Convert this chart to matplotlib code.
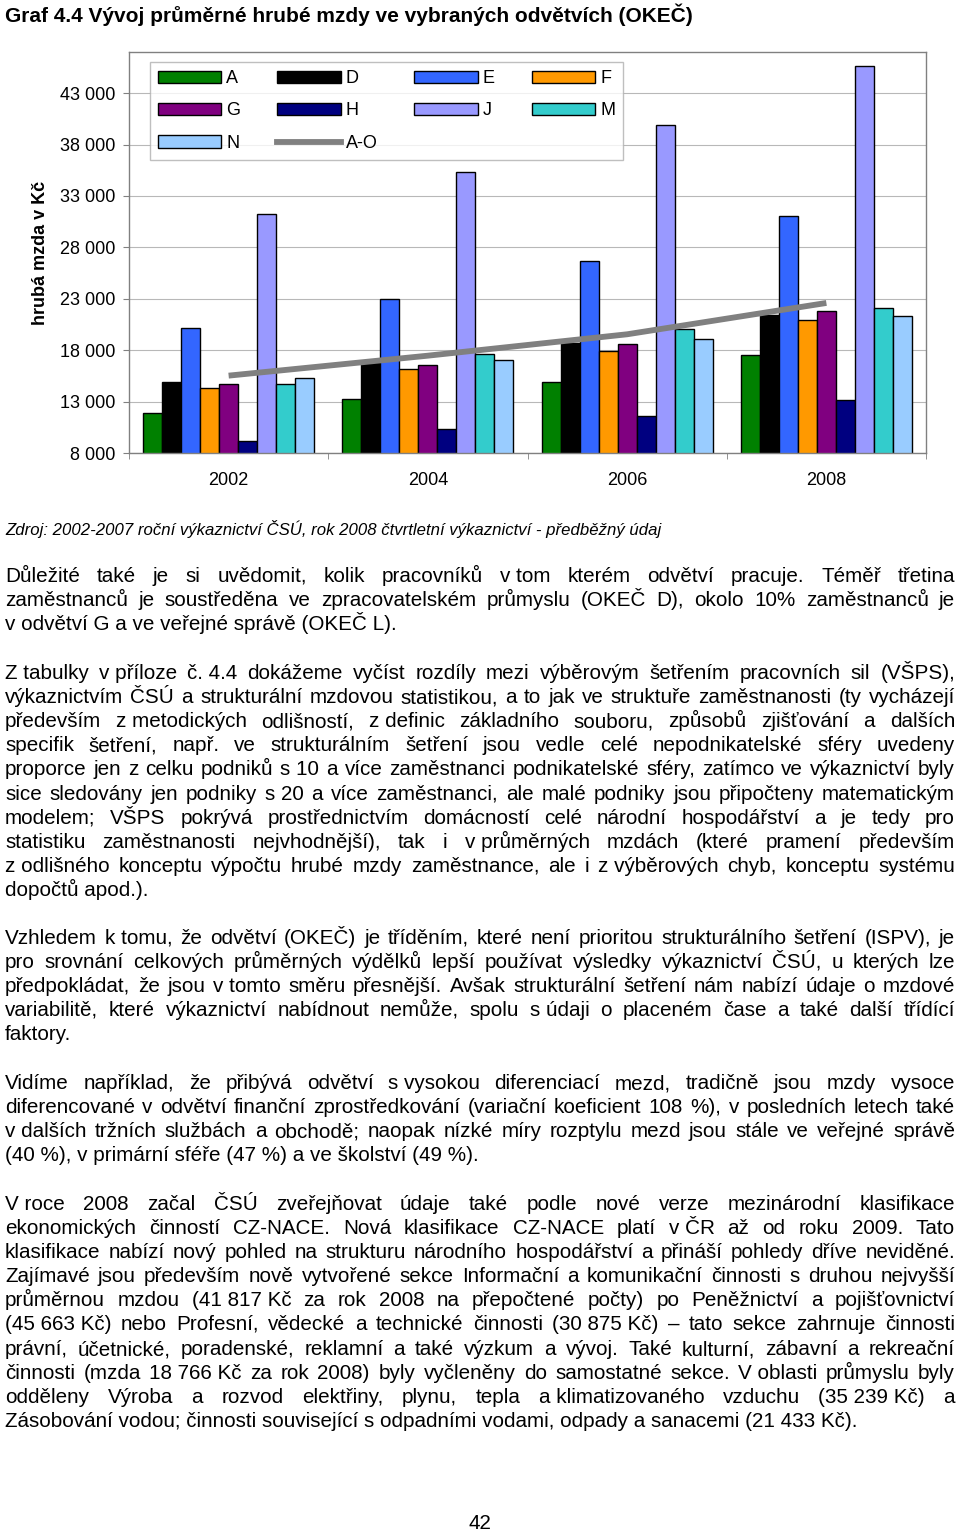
import numpy as np
import matplotlib.pyplot as plt
from matplotlib.patches import Patch
from matplotlib.lines import Line2D

plt.rcParams['font.family'] = ['Liberation Sans', 'DejaVu Sans']

# --- data (Kč) ---
years = ['2002', '2004', '2006', '2008']
sectors = ['A', 'D', 'E', 'F', 'G', 'H', 'J', 'M', 'N']
wage_A = [11900, 13250, 14900, 17560]
wage_D = [14900, 16780, 18700, 21400]
wage_E = [20150, 22940, 26640, 31010]
wage_F = [14350, 16200, 17890, 20960]
wage_G = [14740, 16590, 18570, 21810]
wage_H = [9200, 10300, 11570, 13120]
wage_J = [31270, 35350, 39920, 45660]
wage_M = [14740, 17630, 20090, 22130]
wage_N = [15260, 17070, 19050, 21320]
wage_AO = [15524, 17466, 19546, 22592]
series = [wage_A, wage_D, wage_E, wage_F, wage_G, wage_H, wage_J, wage_M, wage_N]
colors = ['#008000', '#000000', '#3366ff', '#ff9900', '#800080',
          '#000080', '#9999ff', '#33cccc', '#99ccff']
yticks = list(range(8000, 43001, 5000))

title = 'Graf 4.4 Vývoj průměrné hrubé mzdy ve vybraných odvětvích (OKEČ)'
source = ('Zdroj: 2002-2007 roční výkaznictví ČSÚ, rok 2008 čtvrtletní '
          'výkaznictví - předběžný údaj')

# "~" = non-breaking space
para1 = [
    'Důležité také je si uvědomit, kolik pracovníků v~tom kterém odvětví pracuje. Téměř třetina',
    'zaměstnanců je soustředěna ve zpracovatelském průmyslu (OKEČ D), okolo 10% zaměstnanců je',
    'v~odvětví G a ve veřejné správě (OKEČ L).',
]
para2 = [
    'Z~tabulky v~příloze č.~4.4 dokážeme vyčíst rozdíly mezi výběrovým šetřením pracovních sil (VŠPS),',
    'výkaznictvím ČSÚ a strukturální mzdovou statistikou, a to jak ve struktuře zaměstnanosti (ty vycházejí',
    'především z~metodických odlišností, z~definic základního souboru, způsobů zjišťování a dalších',
    'specifik šetření, např. ve strukturálním šetření jsou vedle celé nepodnikatelské sféry uvedeny',
    'proporce jen z celku podniků s~10 a více zaměstnanci podnikatelské sféry, zatímco ve výkaznictví byly',
    'sice sledovány jen podniky s~20 a více zaměstnanci, ale malé podniky jsou připočteny matematickým',
    'modelem; VŠPS pokrývá prostřednictvím domácností celé národní hospodářství a je tedy pro',
    'statistiku zaměstnanosti nejvhodnější), tak i v~průměrných mzdách (které pramení především',
    'z~odlišného konceptu výpočtu hrubé mzdy zaměstnance, ale i z~výběrových chyb, konceptu systému',
    'dopočtů apod.).',
]
para3 = [
    'Vzhledem k~tomu, že odvětví (OKEČ) je tříděním, které není prioritou strukturálního šetření (ISPV), je',
    'pro srovnání celkových průměrných výdělků lepší používat výsledky výkaznictví ČSÚ, u kterých lze',
    'předpokládat, že jsou v~tomto směru přesnější. Avšak strukturální šetření nám nabízí údaje o mzdové',
    'variabilitě, které výkaznictví nabídnout nemůže, spolu s~údaji o placeném čase a také další třídící',
    'faktory.',
]
para4 = [
    'Vidíme například, že přibývá odvětví s~vysokou diferenciací mezd, tradičně jsou mzdy vysoce',
    'diferencované v odvětví finanční zprostředkování (variační koeficient 108 %), v posledních letech také',
    'v~dalších tržních službách a obchodě; naopak nízké míry rozptylu mezd jsou stále ve veřejné správě',
    '(40 %), v primární sféře (47 %) a ve školství (49 %).',
]
para5 = [
    'V~roce 2008 začal ČSÚ zveřejňovat údaje také podle nové verze mezinárodní klasifikace',
    'ekonomických činností CZ-NACE. Nová klasifikace CZ-NACE platí v~ČR až od roku 2009. Tato',
    'klasifikace nabízí nový pohled na strukturu národního hospodářství a přináší pohledy dříve neviděné.',
    'Zajímavé jsou především nově vytvořené sekce Informační a komunikační činnosti s druhou nejvyšší',
    'průměrnou mzdou (41~817~Kč za rok 2008 na přepočtené počty) po Peněžnictví a pojišťovnictví',
    '(45~663~Kč) nebo Profesní, vědecké a technické činnosti (30~875~Kč) – tato sekce zahrnuje činnosti',
    'právní, účetnické, poradenské, reklamní a také výzkum a vývoj. Také kulturní, zábavní a rekreační',
    'činnosti (mzda 18~766~Kč za rok 2008) byly vyčleněny do samostatné sekce. V~oblasti průmyslu byly',
    'odděleny Výroba a rozvod elektřiny, plynu, tepla a~klimatizovaného vzduchu (35~239~Kč) a',
    'Zásobování vodou; činnosti související s odpadními vodami, odpady a sanacemi (21~433~Kč).',
]

W, H = 960, 1533
fig = plt.figure(figsize=(W / 100, H / 100), dpi=100)
page = fig.add_axes([0, 0, 1, 1])
page.set_xlim(0, W)
page.set_ylim(H, 0)
page.axis('off')
renderer = fig.canvas.get_renderer()

X_LEFT, X_RIGHT, LINE_H, BODY = 5, 955, 24.1, 14.9


def body_text(x, y, s):
    return page.text(x, y, s.replace('~', '\u00a0'), fontsize=BODY,
                     va='baseline', ha='left')


def put_par(lines, y0):
    # justified paragraph, last line flush left
    for i, line in enumerate(lines):
        y = round(y0 + i * LINE_H)
        if i == len(lines) - 1:
            body_text(X_LEFT, y, line)
            continue
        items = [body_text(0, y, w) for w in line.split(' ')]
        widths = [t.get_window_extent(renderer).width for t in items]
        gap = (X_RIGHT - X_LEFT - sum(widths)) / (len(items) - 1)
        x = X_LEFT
        for t, w in zip(items, widths):
            t.set_x(x)
            x += w + gap


page.text(X_LEFT, 22, title, fontsize=15, fontweight='bold', va='baseline')
page.text(X_LEFT, 535, source, fontsize=12.1, style='italic', va='baseline')
put_par(para1, 582)
put_par(para2, 679)
put_par(para3, 944)
put_par(para4, 1089)
put_par(para5, 1210)
page.text(480, 1529, '42', fontsize=BODY, ha='center', va='baseline')

# --- chart ---
ax = fig.add_axes([129 / W, 1 - 453 / H, 797 / W, 401 / H])
x = np.arange(len(years))
bw = 1 / 10.5
for i, (vals, c) in enumerate(zip(series, colors)):
    ax.bar(x + (i - 4) * bw, vals, bw, color=c, edgecolor='black',
           linewidth=1.0, zorder=2)
ax.plot(x, wage_AO, color='#808080', linewidth=4.2, zorder=3,
        solid_capstyle='butt')

ax.set_xlim(-0.5, 3.5)
ax.set_ylim(8000, 47000)
ax.set_yticks(yticks, [f'{v:,}'.replace(',', ' ') for v in yticks])
ax.set_xticks(x, years)
ax.set_xticks(np.arange(-0.5, 3.6, 1), minor=True)
ax.tick_params(axis='x', which='major', length=0, pad=13.5, labelsize=13)
ax.tick_params(axis='x', which='minor', length=4.3, color='#808080')
ax.tick_params(axis='y', length=4.3, color='#808080', pad=5.5, labelsize=13)
ax.grid(axis='y', color='#b8b8b8', linewidth=0.8)
ax.set_axisbelow(True)
for s in ax.spines.values():
    s.set_color('#808080')
    s.set_linewidth(1.0)
ax.set_ylabel('hrubá mzda v Kč', fontsize=13, fontweight='bold')
ax.yaxis.set_label_coords(-0.101, 0.5)

handles = [Patch(facecolor=c, edgecolor='black', linewidth=1.0, label=s)
           for s, c in zip(sectors, colors)]
handles.append(Line2D([], [], color='#808080', linewidth=4.2, label='A-O'))
order = [0, 4, 8, 1, 5, 9, 2, 6, 3, 7]  # row-wise like the original
leg = ax.legend([handles[k] for k in order], [handles[k].get_label() for k in order],
                ncol=4, loc='upper left', bbox_to_anchor=(0.0263, 0.975),
                fontsize=13, frameon=True, fancybox=False, borderpad=0.45,
                handlelength=3.5, handleheight=0.67, handletextpad=0.28,
                columnspacing=2.05, labelspacing=0.85, borderaxespad=0)
leg.get_frame().set_edgecolor('#b0b0b0')
leg.get_frame().set_linewidth(1.0)

fig.savefig('out.png', dpi=100)
